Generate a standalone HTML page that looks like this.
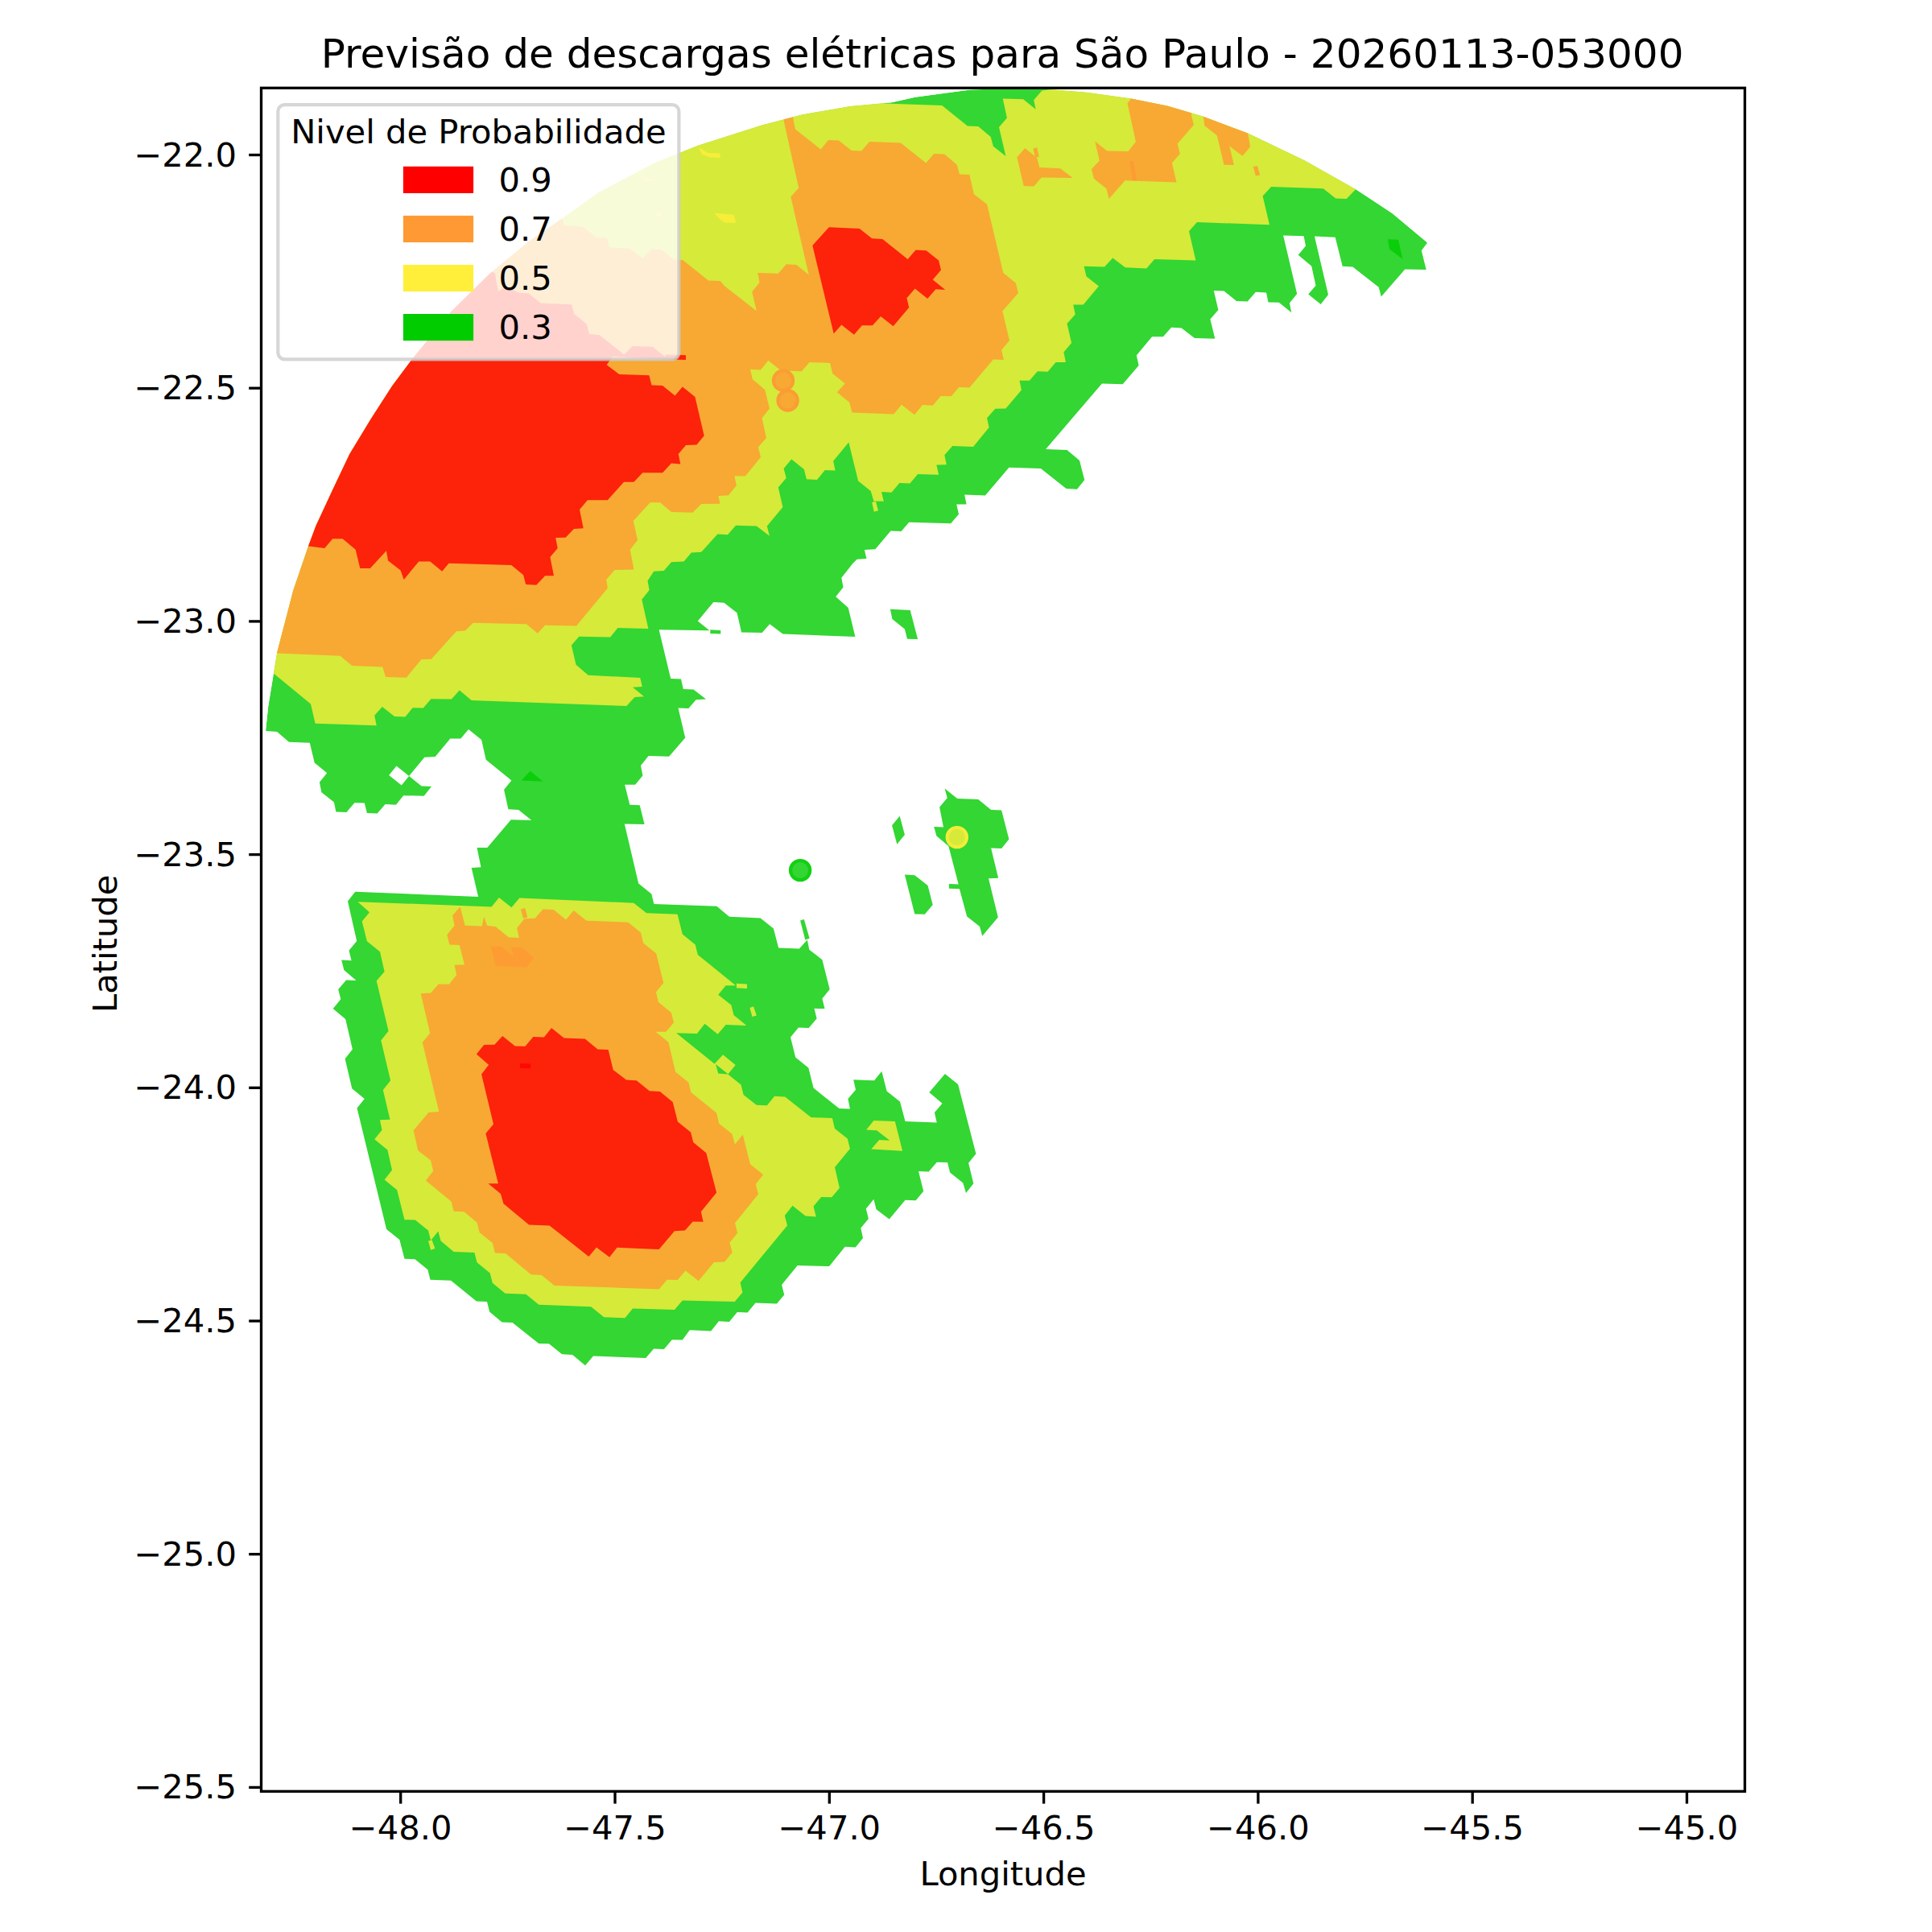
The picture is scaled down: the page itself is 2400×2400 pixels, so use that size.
<!DOCTYPE html>
<html lang="pt"><head><meta charset="utf-8"><title>Previsão de descargas elétricas para São Paulo</title>
<style>
html,body{margin:0;padding:0;background:#fff;}
body{width:2400px;height:2400px;overflow:hidden;}
svg{display:block;}
text{font-family:"DejaVu Sans","Liberation Sans",sans-serif;fill:#000;}
</style></head><body>
<svg width="2400" height="2400" viewBox="0 0 2400 2400">
<rect width="2400" height="2400" fill="#fff"/>
<defs>
<clipPath id="arc"><polygon points="330.1,907.1 333.2,877.6 339.9,836.4 344.1,810.8 353.4,775.1 364.3,733.2 382.9,678.8 392.4,653.3 412.6,609.8 434.3,564.0 460.7,520.5 487.1,479.4 512.0,446.0 560.7,386.7 608.3,340.1 655.9,300.8 699.4,270.8 742.9,239.7 813.3,202.4 867.1,180.7 946.3,155.5 995.9,142.4 1056.0,132.1 1107.7,127.3 1136.7,120.7 1205.0,111.4 1255.0,110.0 1307.5,111.2 1350.0,114.8 1405.3,122.4 1450.0,131.5 1493.4,144.2 1550.7,165.7 1620.5,199.2 1684.8,235.6 1729.5,264.9 1772.9,301.2 2400.0,302.0 2400.0,2400.0 0.0,2400.0 0.0,906.5"/></clipPath>
<clipPath id="axes"><rect x="324.5" y="109.3" width="1843.0" height="2116.0"/></clipPath>
</defs>
<g clip-path="url(#axes)"><g clip-path="url(#arc)" shape-rendering="geometricPrecision">
<polygon points="330.1,907.1 333.2,877.6 339.9,836.4 344.1,810.8 353.4,775.1 364.3,733.2 382.9,678.8 392.4,653.3 412.6,609.8 434.3,564.0 460.7,520.5 487.1,479.4 512.0,446.0 560.7,386.7 608.3,340.1 655.9,300.8 699.4,270.8 742.9,239.7 813.3,202.4 867.1,180.7 946.3,155.5 995.9,142.4 1056.0,132.1 1107.7,127.3 1136.7,120.7 1205.0,111.4 1255.0,110.0 1307.5,111.2 1350.0,114.8 1405.3,122.4 1450.0,131.5 1493.4,144.2 1550.7,165.7 1620.5,199.2 1684.8,235.6 1729.5,264.9 1772.9,301.2 1772.7,301.9 1765.8,311.2 1771.7,335.1 1745.3,334.5 1715.8,368.6 1712.7,356.8 1680.4,331.4 1667.7,330.7 1658.7,294.7 1632.9,293.5 1650.0,366.1 1640.7,378.0 1625.2,365.5 1634.5,354.7 1629.2,330.4 1612.7,316.8 1622.0,305.6 1619.6,293.2 1594.1,292.5 1611.2,364.9 1601.9,376.4 1604.3,388.2 1588.8,375.8 1575.5,375.5 1573.0,363.4 1559.9,362.7 1549.7,374.5 1536.0,373.9 1520.5,361.5 1507.8,360.9 1513.4,385.1 1503.4,396.6 1509.3,420.8 1483.9,419.9 1467.7,407.5 1455.0,406.8 1445.0,418.3 1431.1,418.3 1411.8,441.6 1414.6,454.0 1394.7,477.3 1368.9,476.4 1299.1,558.1 1325.5,559.0 1341.0,572.0 1347.2,596.3 1337.9,607.8 1324.5,607.1 1292.9,582.0 1253.4,580.7 1223.9,615.5 1198.1,614.6 1200.6,626.4 1188.2,626.4 1191.0,638.8 1181.1,650.3 1129.2,648.8 1119.6,659.9 1106.5,659.6 1087.3,682.3 1073.9,682.9 1076.4,694.1 1064.6,694.7 1059.3,700.0 1045.3,717.7 1047.5,729.5 1038.2,741.3 1053.7,755.0 1062.4,791.0 972.4,787.6 956.2,775.2 946.6,786.0 921.1,785.4 915.5,761.2 899.4,748.8 886.3,748.1 866.8,771.4 881.4,783.2 818.6,782.3 833.2,842.9 846.0,843.5 848.8,855.9 861.5,856.5 877.0,868.6 864.6,869.3 855.3,880.1 842.5,879.5 851.2,916.5 831.1,939.8 805.6,939.1 796.0,950.9 798.4,963.4 789.1,974.8 776.1,974.8 782.3,999.7 794.7,1000.3 800.6,1023.9 775.8,1023.6 793.2,1097.5 809.3,1110.6 812.4,1123.0 890.4,1125.8 905.9,1138.8 944.7,1140.4 960.9,1153.4 967.1,1177.6 992.9,1178.6 1002.8,1167.4 1005.3,1179.8 1021.4,1192.2 1030.7,1228.9 1021.4,1240.4 1024.5,1253.1 1011.5,1252.8 1014.6,1265.2 1004.7,1277.0 991.9,1276.4 982.0,1288.5 988.2,1313.4 1004.3,1326.4 1010.6,1351.6 1042.5,1377.0 1055.9,1377.6 1053.4,1364.9 1063.0,1353.7 1060.2,1341.3 1086.0,1342.2 1095.3,1330.7 1101.6,1355.6 1118.0,1368.6 1124.5,1392.9 1163.7,1394.4 1160.9,1382.0 1170.5,1370.8 1154.3,1357.1 1173.9,1333.9 1190.1,1346.9 1212.4,1433.2 1203.1,1444.7 1209.3,1470.2 1200.0,1482.0 1196.3,1469.6 1180.1,1456.5 1177.0,1444.1 1163.7,1443.8 1153.7,1455.6 1141.0,1455.0 1147.2,1479.8 1137.6,1491.3 1124.5,1490.7 1104.7,1514.6 1088.5,1502.2 1085.4,1489.8 1075.8,1501.6 1078.9,1514.0 1069.3,1525.5 1072.0,1537.9 1062.7,1549.4 1049.7,1548.8 1030.1,1573.0 990.7,1572.0 971.1,1596.0 974.2,1608.4 964.9,1619.6 938.5,1618.6 928.6,1630.4 915.8,1630.1 905.9,1641.9 892.9,1641.3 883.2,1653.4 856.8,1652.2 847.8,1664.6 834.8,1664.3 824.8,1676.1 812.1,1675.5 802.2,1687.0 737.0,1684.5 727.0,1696.3 711.2,1682.9 698.1,1682.3 682.0,1669.3 669.3,1668.9 636.6,1642.9 623.6,1642.5 608.1,1629.5 605.0,1617.1 591.9,1616.5 560.2,1590.7 534.5,1589.8 531.4,1577.3 515.5,1564.3 502.5,1563.7 496.3,1540.1 480.1,1527.0 443.5,1376.4 452.8,1364.9 437.3,1352.2 428.6,1315.2 437.9,1303.4 429.2,1266.1 413.7,1253.1 423.3,1241.3 420.2,1228.9 430.1,1217.4 442.5,1218.0 427.3,1205.0 424.2,1192.5 436.6,1193.2 433.5,1180.7 443.2,1168.9 432.0,1119.6 441.3,1107.8 594.1,1114.0 585.7,1078.0 597.5,1077.3 592.5,1053.1 605.3,1053.1 634.8,1018.3 660.2,1018.9 644.1,1005.9 631.4,1005.3 626.1,981.1 635.4,969.6 603.7,943.8 598.1,918.9 582.0,905.9 572.4,917.4 559.3,917.4 540.7,940.1 527.3,940.7 508.1,964.0 523.6,976.4 536.0,977.0 526.7,988.8 501.2,988.2 491.9,999.7 478.6,999.1 468.6,1010.6 455.9,1009.9 452.8,997.5 440.4,997.2 430.4,1009.0 417.4,1008.4 414.9,996.6 399.4,984.2 396.9,971.7 406.2,960.2 390.7,947.5 384.8,922.7 359.0,921.7 344.1,909.0 330.4,908.1" fill="#33d633" />
<polygon points="1105.9,756.8 1130.7,758.1 1140.1,794.1 1127.0,793.8 1123.9,781.4 1108.4,768.9" fill="#33d633" />
<polygon points="1117.7,1013.7 1123.9,1037.0 1114.3,1048.8 1108.1,1025.2" fill="#33d633" />
<polygon points="1123.9,1086.6 1136.3,1087.3 1152.5,1100.0 1158.7,1123.9 1148.8,1135.7 1136.3,1135.4" fill="#33d633" />
<polygon points="1173.6,979.5 1189.1,991.9 1215.2,992.9 1231.1,1005.9 1244.1,1006.5 1253.4,1042.5 1244.1,1054.0 1231.1,1053.4 1240.1,1090.7 1228.0,1091.3 1239.8,1139.4 1220.2,1162.7 1217.1,1150.9 1201.2,1138.5 1191.9,1104.3 1178.9,1103.7 1178.9,1098.1 1190.7,1098.4 1178.3,1050.9 1163.4,1038.5 1160.2,1027.0 1172.0,1027.6 1167.1,1002.8 1176.7,991.3" fill="#33d633" />
<polygon points="994.1,1143.5 998.8,1141.9 1005.6,1165.8 1000.3,1167.4" fill="#33d633" />
<polygon points="882.3,782.3 895.3,782.9 895.3,787.6 882.3,787.0" fill="#33d633" />
<polygon points="492.5,951.6 508.1,964.0 498.8,975.5 483.2,963.0" fill="#fff" />
<polygon points="1684.2,235.1 1672.7,246.9 1659.3,246.6 1643.8,234.2 1579.2,232.0 1568.6,243.5 1577.0,279.2 1487.0,276.1 1477.0,287.3 1485.4,323.6 1434.2,322.0 1424.2,333.5 1397.8,332.3 1382.3,320.5 1372.0,331.4 1346.6,330.7 1349.4,343.2 1364.9,355.6 1345.7,378.6 1333.2,378.6 1335.7,390.4 1325.5,401.9 1331.1,426.1 1321.4,437.6 1323.9,450.0 1311.5,450.0 1301.6,461.8 1288.8,461.2 1278.9,472.7 1266.5,472.7 1268.9,484.5 1249.4,507.5 1236.3,507.8 1226.1,519.3 1228.6,531.1 1209.0,555.0 1183.2,554.0 1173.3,565.2 1175.8,577.3 1163.4,577.6 1166.1,589.8 1140.1,589.1 1130.4,600.6 1117.4,600.0 1107.5,611.8 1095.0,610.9 1097.8,622.7 1085.4,622.4 1081.7,609.9 1066.1,597.5 1054.3,549.4 1035.1,572.7 1037.6,584.5 1024.8,583.9 1014.9,596.0 1001.9,595.3 998.8,582.9 983.2,570.5 973.6,582.0 976.7,593.8 966.8,605.6 972.4,630.1 952.8,653.4 955.9,665.8 939.8,653.4 914.0,652.8 904.0,664.3 891.4,663.4 871.2,685.8 858.8,686.4 849.5,697.6 834.0,698.2 824.7,709.1 812.2,709.7 804.5,721.5 806.6,733.0 797.3,744.8 805.4,781.1 767.4,780.1 758.1,791.6 719.3,790.7 709.9,801.6 715.5,825.8 730.7,838.8 795.3,841.9 797.8,853.1 786.0,853.7 800.0,865.2 788.5,866.1 778.3,877.0 585.7,869.9 570.8,857.5 560.9,868.6 535.4,868.3 525.8,879.5 512.7,879.2 503.4,890.4 490.1,890.1 474.8,878.0 465.2,888.8 467.7,901.2 391.6,898.8 386.0,874.5 339.8,836.6 300.0,836.0 300.0,80.0 1098.8,118.6 1098.8,128.6 1170.2,131.1 1201.9,156.5 1215.2,157.1 1230.7,169.9 1233.9,181.7 1249.4,194.1 1241.0,158.1 1250.9,146.6 1245.7,122.4 1271.1,123.3 1286.6,135.7 1284.2,124.2 1294.4,112.4 1306.8,111.2 1306.8,100.0 1800.0,80.0 1800.0,225.0" fill="#d6ea39" />
<polygon points="444.4,1120.2 610.6,1126.4 619.9,1114.9 635.4,1127.3 645.3,1115.5 787.3,1121.7 803.1,1134.2 841.6,1135.7 847.8,1160.6 863.7,1173.6 866.8,1186.0 914.0,1224.2 901.6,1224.2 892.2,1235.7 908.4,1248.4 911.5,1260.9 927.3,1273.9 901.6,1273.0 891.6,1284.8 875.5,1271.7 865.8,1283.9 840.1,1283.2 887.6,1321.4 898.1,1310.2 913.7,1323.0 904.3,1334.5 920.5,1347.5 923.6,1359.9 939.8,1372.7 952.8,1373.3 962.1,1361.8 975.2,1362.4 1007.5,1387.9 1033.9,1389.1 1037.0,1401.9 1052.8,1414.6 1055.9,1427.0 1037.0,1450.0 1042.9,1475.8 1033.2,1487.3 1020.2,1487.0 1010.6,1498.4 1013.7,1511.5 1000.6,1510.6 984.5,1497.8 974.8,1509.9 978.0,1522.4 919.6,1593.2 922.4,1605.6 912.7,1617.1 847.8,1615.5 837.9,1627.0 786.0,1625.5 776.4,1637.3 750.3,1636.3 734.2,1623.3 669.3,1620.8 653.4,1607.8 627.6,1606.8 611.8,1593.8 608.7,1581.4 592.5,1568.3 589.4,1555.9 563.7,1555.0 547.5,1541.6 544.4,1529.5 535.1,1541.0 532.0,1528.6 515.8,1515.5 502.5,1515.2 493.2,1478.3 477.6,1465.5 487.0,1453.4 481.4,1428.6 465.2,1415.2 474.5,1403.7 472.0,1391.3 484.5,1390.7 475.8,1354.0 485.1,1342.2 473.3,1292.5 482.6,1280.7 467.7,1218.6 477.6,1207.1 472.0,1182.3 455.9,1169.3 449.7,1144.4 459.0,1133.2" fill="#d6ea39" />
<polygon points="1085.4,1391.9 1111.8,1392.9 1121.1,1429.8 1082.3,1427.6 1092.2,1416.1 1105.3,1416.8 1089.1,1404.3 1076.1,1403.4" fill="#d6ea39" />
<polygon points="914.9,1221.7 928.0,1222.4 928.0,1228.0 914.9,1227.3" fill="#d6ea39" />
<polygon points="931.4,1251.9 936.0,1250.3 939.8,1261.5 934.5,1263.0" fill="#d6ea39" />
<polygon points="532.0,1541.6 536.6,1540.4 540.4,1550.9 535.1,1552.8" fill="#d6ea39" />
<polygon points="889.1,1322.0 892.2,1333.5 904.7,1334.5" fill="#33d633" />
<polygon points="697.5,269.0 697.5,269.3 700.6,280.1 723.9,281.7 741.0,295.0 754.0,295.7 757.1,307.5 782.9,308.7 798.4,321.1 809.3,309.6 821.7,310.2 837.3,322.7 848.1,323.0 880.1,348.4 894.7,349.1 900.0,355.3 939.8,386.3 934.2,362.4 943.5,350.9 941.3,339.1 966.8,339.8 976.7,328.3 989.4,328.9 1004.7,341.3 982.3,244.4 992.2,233.5 973.6,149.7 974.5,137.3 984.5,137.3 985.4,148.1 987.9,160.6 1019.6,185.4 1028.9,173.9 1041.9,174.5 1057.8,187.0 1070.2,187.6 1080.1,176.1 1118.9,177.6 1150.3,202.5 1160.2,191.0 1173.3,191.6 1188.8,204.7 1191.9,216.5 1204.3,217.1 1209.9,241.3 1226.1,253.7 1246.3,339.1 1261.8,351.6 1264.9,364.0 1245.3,386.6 1254.0,423.0 1244.1,434.8 1246.9,446.9 1233.9,446.6 1204.3,481.4 1191.3,481.1 1181.7,492.2 1168.6,491.9 1158.7,503.7 1146.0,503.1 1136.0,515.2 1119.9,502.8 1110.2,514.6 1058.4,512.4 1055.3,500.0 1039.8,487.3 1049.7,476.4 1034.2,464.0 1031.1,450.9 1005.6,450.0 995.7,461.2 969.9,460.2 954.3,447.8 945.0,459.6 932.0,458.7 934.8,471.1 950.3,484.2 955.9,507.5 946.6,519.3 951.9,544.1 941.9,555.6 945.0,568.0 925.8,591.6 912.4,591.3 914.9,603.1 905.6,614.6 905.4,615.3 892.4,615.9 894.5,625.8 871.2,626.1 860.4,636.7 834.0,636.1 820.0,624.3 807.6,624.3 786.8,647.0 792.0,670.9 782.7,682.7 787.4,707.5 763.5,708.1 753.2,719.9 754.8,730.8 716.0,777.4 677.1,776.8 667.8,786.7 653.9,775.2 587.7,773.7 577.8,783.6 566.9,784.2 535.8,818.7 523.4,819.3 504.8,841.7 479.0,841.1 475.3,828.6 437.4,827.1 422.5,814.7 344.8,811.6 300.0,810.0 300.0,262.0" fill="#f7a934" />
<polygon points="1263.4,195.3 1273.3,183.9 1288.2,196.3 1291.3,208.1 1317.1,209.3 1332.6,221.1 1293.8,220.5 1284.2,231.4 1271.7,231.1" fill="#f7a934" />
<polygon points="1283.5,184.5 1288.2,183.2 1290.7,194.7 1286.0,195.7" fill="#f7a934" />
<polygon points="1412.4,112.4 1400.6,128.6 1410.9,176.1 1401.6,187.9 1375.2,187.6 1360.2,175.5 1365.8,199.4 1355.9,210.2 1359.0,222.0 1374.5,234.5 1377.6,246.9 1397.5,224.2 1461.5,226.4 1455.9,202.5 1465.8,191.0 1462.7,178.6 1482.9,155.3 1480.1,143.5 1480.1,109.3" fill="#f7a934" />
<polygon points="1493.2,131.1 1496.3,155.9 1511.8,168.3 1520.5,204.7 1532.9,205.0 1527.3,181.4 1543.5,193.8 1553.1,182.3 1550.0,164.6 1550.0,131.1" fill="#f7a934" />
<polygon points="1556.8,207.1 1562.1,206.2 1565.2,217.4 1559.9,218.6" fill="#f7a934" />
<polygon points="571.7,1126.4 577.6,1149.7 598.8,1150.6 601.2,1138.8 605.0,1149.7 615.8,1151.2 631.7,1164.3 644.7,1164.9 642.2,1152.8 651.6,1141.3 664.6,1140.7 674.5,1129.5 687.6,1130.1 703.1,1142.5 712.7,1131.1 728.6,1143.8 780.4,1145.7 796.0,1158.4 799.1,1171.4 815.2,1184.5 824.2,1221.1 814.9,1232.6 818.0,1245.0 833.9,1258.1 837.0,1270.2 827.3,1281.7 814.6,1281.7 830.4,1294.7 839.1,1331.4 855.3,1344.4 858.4,1357.1 890.1,1382.6 893.2,1395.7 909.3,1408.4 913.0,1421.4 922.7,1409.6 932.0,1446.3 948.1,1459.3 938.8,1471.1 941.9,1483.5 913.0,1519.3 916.1,1531.7 906.5,1543.5 909.6,1555.9 900.0,1567.4 887.0,1568.0 867.7,1591.3 851.6,1578.6 841.6,1590.1 828.6,1589.8 818.6,1601.6 688.8,1596.9 672.7,1583.9 659.6,1583.2 628.0,1557.1 614.9,1556.5 611.8,1544.1 595.7,1531.1 592.5,1518.6 576.4,1505.3 563.7,1504.7 560.6,1492.5 528.9,1466.5 538.2,1454.7 535.1,1441.6 519.3,1429.2 513.7,1404.3 532.6,1381.7 545.3,1381.1 524.8,1295.0 534.2,1283.2 522.7,1234.2 535.1,1233.5 544.7,1222.4 557.8,1222.7 567.1,1211.2 564.6,1198.8 577.0,1198.4 570.8,1173.9 558.4,1173.6 555.3,1161.2 564.6,1149.7 562.1,1137.3" fill="#f7a934" />
<polygon points="646.9,1129.5 652.2,1128.0 655.3,1139.4 650.0,1141.0" fill="#f7a934" />
<polygon points="610.6,337.6 614.9,339.3 617.0,351.8 619.0,362.1 628.4,355.9 644.9,363.8 656.3,364.2 671.8,376.6 710.1,378.3 713.3,390.1 728.8,402.5 731.9,414.9 744.3,415.9 775.4,440.4 785.7,430.0 810.6,430.8 826.1,442.9 827.1,440.4 852.0,441.2 852.0,447.0 823.0,446.2 760.9,442.9 753.6,453.2 769.2,465.0 806.4,466.3 809.5,478.5 823.0,479.1 838.5,491.5 847.8,480.5 863.4,493.0 874.7,541.2 865.4,552.6 852.0,553.0 842.7,564.0 845.3,576.4 834.0,575.5 823.1,587.3 798.3,587.3 787.4,598.8 775.0,598.8 754.8,621.2 729.9,621.2 720.0,633.0 724.7,656.3 712.9,656.9 702.6,667.8 690.2,668.1 692.7,681.1 683.4,692.0 688.0,715.3 677.1,715.3 666.3,726.8 653.2,726.1 650.1,714.3 635.2,701.9 557.6,699.8 549.2,709.7 534.3,697.6 520.3,697.6 501.7,719.9 497.6,708.4 482.1,696.6 479.9,684.2 459.8,706.0 447.3,706.0 441.7,682.7 425.6,669.3 413.2,669.3 403.2,681.1 383.7,678.6 300.0,680.0 300.0,330.0" fill="#fd220a" />
<polygon points="1029.8,282.3 1067.7,283.9 1083.2,296.3 1096.3,296.9 1127.6,322.0 1137.6,310.6 1150.6,311.2 1166.1,323.6 1168.9,335.4 1158.7,347.5 1174.2,359.9 1162.4,359.3 1152.2,371.1 1136.6,358.4 1126.4,370.2 1129.2,382.0 1109.6,405.3 1094.1,392.9 1083.9,404.3 1070.8,404.3 1060.9,415.8 1045.3,403.4 1035.7,414.6 1009.3,305.0" fill="#fd220a" />
<polygon points="591.9,1309.6 601.2,1298.1 614.3,1297.8 624.2,1287.0 639.8,1299.4 652.5,1299.7 662.4,1287.9 675.8,1288.5 685.1,1277.0 700.6,1289.4 726.7,1290.4 742.5,1303.4 755.6,1304.0 761.8,1329.2 778.0,1341.6 790.7,1342.2 806.8,1355.3 819.9,1355.9 835.7,1368.9 841.9,1393.5 858.1,1406.5 861.2,1418.9 877.3,1432.3 890.1,1481.4 870.8,1505.3 873.6,1517.7 860.6,1517.4 850.9,1528.6 837.9,1529.2 818.6,1551.9 766.5,1549.7 757.1,1561.8 741.0,1549.4 731.4,1560.9 682.6,1522.4 657.1,1521.4 625.5,1495.3 622.0,1482.9 606.5,1470.2 618.9,1470.2 603.4,1408.1 613.0,1396.6 598.1,1334.5 607.1,1322.7" fill="#fd220a" />
<polygon points="1723.9,297.2 1737.0,297.8 1742.5,322.0 1726.1,309.6" fill="#0ace0a" />
<polygon points="647.8,969.6 658.7,957.8 674.2,970.8" fill="#0ace0a" />
<polygon points="609.6,1175.5 623.0,1176.1 637.6,1187.9 635.1,1176.7 648.4,1177.0 663.4,1190.1 654.0,1201.6 615.8,1200.0" fill="#fd9c33" />
<polygon points="1403.1,200.0 1407.8,200.0 1412.4,224.2 1407.1,224.2" fill="#fd9c33" />
<polygon points="646.0,1321.1 659.3,1321.4 658.7,1327.3 646.0,1326.7" fill="#ff0702" />
<polygon points="868.0,183.0 880.0,190.0 894.5,190.5 894.5,196.0 883.0,195.5 872.0,192.0" fill="#f7ee3a" />
<polygon points="887.0,264.5 912.0,267.0 914.0,277.0 900.0,276.5 893.0,271.0" fill="#f7ee3a" />
<polygon points="799.0,218.4 805.1,222.0 813.0,222.6 812.4,225.6 802.3,224.8" fill="#f7ee3a" />
<polygon points="809.3,263.1 821.9,263.9 823.3,269.5 817.7,269.0" fill="#f7ee3a" />
<polygon points="1083.2,623.9 1087.9,622.7 1091.0,634.2 1085.7,635.7" fill="#d6ea39" />
<circle cx="973.0" cy="472.7" r="12.1" fill="#f7a934" stroke="#fb9d35" stroke-width="4.2"/>
<circle cx="978.6" cy="497.5" r="12.1" fill="#f7a934" stroke="#fb9d35" stroke-width="4.2"/>
<circle cx="994.1" cy="1081.1" r="12.1" fill="#33d633" stroke="#12d012" stroke-width="4.2"/>
<circle cx="1188.8" cy="1040.1" r="12.1" fill="#d6ea39" stroke="#f4ec3a" stroke-width="4.2"/>
</g></g>
<rect x="345.3" y="130.1" width="498.09999999999997" height="316.29999999999995" rx="8.3" ry="8.3" fill="#fff" fill-opacity="0.8" stroke="#ccc" stroke-opacity="0.8" stroke-width="4.17"/>
<text x="594.4" y="177.9" font-size="41.67" text-anchor="middle">Nivel de Probabilidade</text>
<rect x="500.9" y="206.80" width="87.2" height="33.2" fill="#ff0000"/>
<text x="619.5" y="237.50" font-size="41.67">0.9</text>
<rect x="500.9" y="267.87" width="87.2" height="33.2" fill="#ff9933"/>
<text x="619.5" y="298.57" font-size="41.67">0.7</text>
<rect x="500.9" y="328.94" width="87.2" height="33.2" fill="#ffef3a"/>
<text x="619.5" y="359.64" font-size="41.67">0.5</text>
<rect x="500.9" y="390.01" width="87.2" height="33.2" fill="#00cc00"/>
<text x="619.5" y="420.71" font-size="41.67">0.3</text>
<rect x="324.5" y="109.3" width="1843.0" height="2116.0" fill="none" stroke="#000" stroke-width="3.33" stroke-linejoin="miter"/>
<line x1="497.70" y1="2225.3" x2="497.70" y2="2240.6000000000004" stroke="#000" stroke-width="3.33"/>
<text x="497.70" y="2285.2" font-size="41.67" text-anchor="middle">−48.0</text>
<line x1="764.00" y1="2225.3" x2="764.00" y2="2240.6000000000004" stroke="#000" stroke-width="3.33"/>
<text x="764.00" y="2285.2" font-size="41.67" text-anchor="middle">−47.5</text>
<line x1="1030.30" y1="2225.3" x2="1030.30" y2="2240.6000000000004" stroke="#000" stroke-width="3.33"/>
<text x="1030.30" y="2285.2" font-size="41.67" text-anchor="middle">−47.0</text>
<line x1="1296.60" y1="2225.3" x2="1296.60" y2="2240.6000000000004" stroke="#000" stroke-width="3.33"/>
<text x="1296.60" y="2285.2" font-size="41.67" text-anchor="middle">−46.5</text>
<line x1="1562.90" y1="2225.3" x2="1562.90" y2="2240.6000000000004" stroke="#000" stroke-width="3.33"/>
<text x="1562.90" y="2285.2" font-size="41.67" text-anchor="middle">−46.0</text>
<line x1="1829.20" y1="2225.3" x2="1829.20" y2="2240.6000000000004" stroke="#000" stroke-width="3.33"/>
<text x="1829.20" y="2285.2" font-size="41.67" text-anchor="middle">−45.5</text>
<line x1="2095.50" y1="2225.3" x2="2095.50" y2="2240.6000000000004" stroke="#000" stroke-width="3.33"/>
<text x="2095.50" y="2285.2" font-size="41.67" text-anchor="middle">−45.0</text>
<line x1="324.5" y1="192.50" x2="309.2" y2="192.50" stroke="#000" stroke-width="3.33"/>
<text x="294.1" y="206.50" font-size="41.67" text-anchor="end">−22.0</text>
<line x1="324.5" y1="482.20" x2="309.2" y2="482.20" stroke="#000" stroke-width="3.33"/>
<text x="294.1" y="496.20" font-size="41.67" text-anchor="end">−22.5</text>
<line x1="324.5" y1="771.90" x2="309.2" y2="771.90" stroke="#000" stroke-width="3.33"/>
<text x="294.1" y="785.90" font-size="41.67" text-anchor="end">−23.0</text>
<line x1="324.5" y1="1061.60" x2="309.2" y2="1061.60" stroke="#000" stroke-width="3.33"/>
<text x="294.1" y="1075.60" font-size="41.67" text-anchor="end">−23.5</text>
<line x1="324.5" y1="1351.30" x2="309.2" y2="1351.30" stroke="#000" stroke-width="3.33"/>
<text x="294.1" y="1365.30" font-size="41.67" text-anchor="end">−24.0</text>
<line x1="324.5" y1="1641.00" x2="309.2" y2="1641.00" stroke="#000" stroke-width="3.33"/>
<text x="294.1" y="1655.00" font-size="41.67" text-anchor="end">−24.5</text>
<line x1="324.5" y1="1930.70" x2="309.2" y2="1930.70" stroke="#000" stroke-width="3.33"/>
<text x="294.1" y="1944.70" font-size="41.67" text-anchor="end">−25.0</text>
<line x1="324.5" y1="2220.40" x2="309.2" y2="2220.40" stroke="#000" stroke-width="3.33"/>
<text x="294.1" y="2234.40" font-size="41.67" text-anchor="end">−25.5</text>
<text x="1246" y="2342.2" font-size="41.67" text-anchor="middle">Longitude</text>
<text transform="translate(145,1172.3) rotate(-90)" font-size="41.67" text-anchor="middle">Latitude</text>
<text x="2091.5" y="83.5" font-size="50" text-anchor="end" textLength="1692.7" lengthAdjust="spacing">Previsão de descargas elétricas para São Paulo - 20260113-053000</text>
</svg></body></html>
